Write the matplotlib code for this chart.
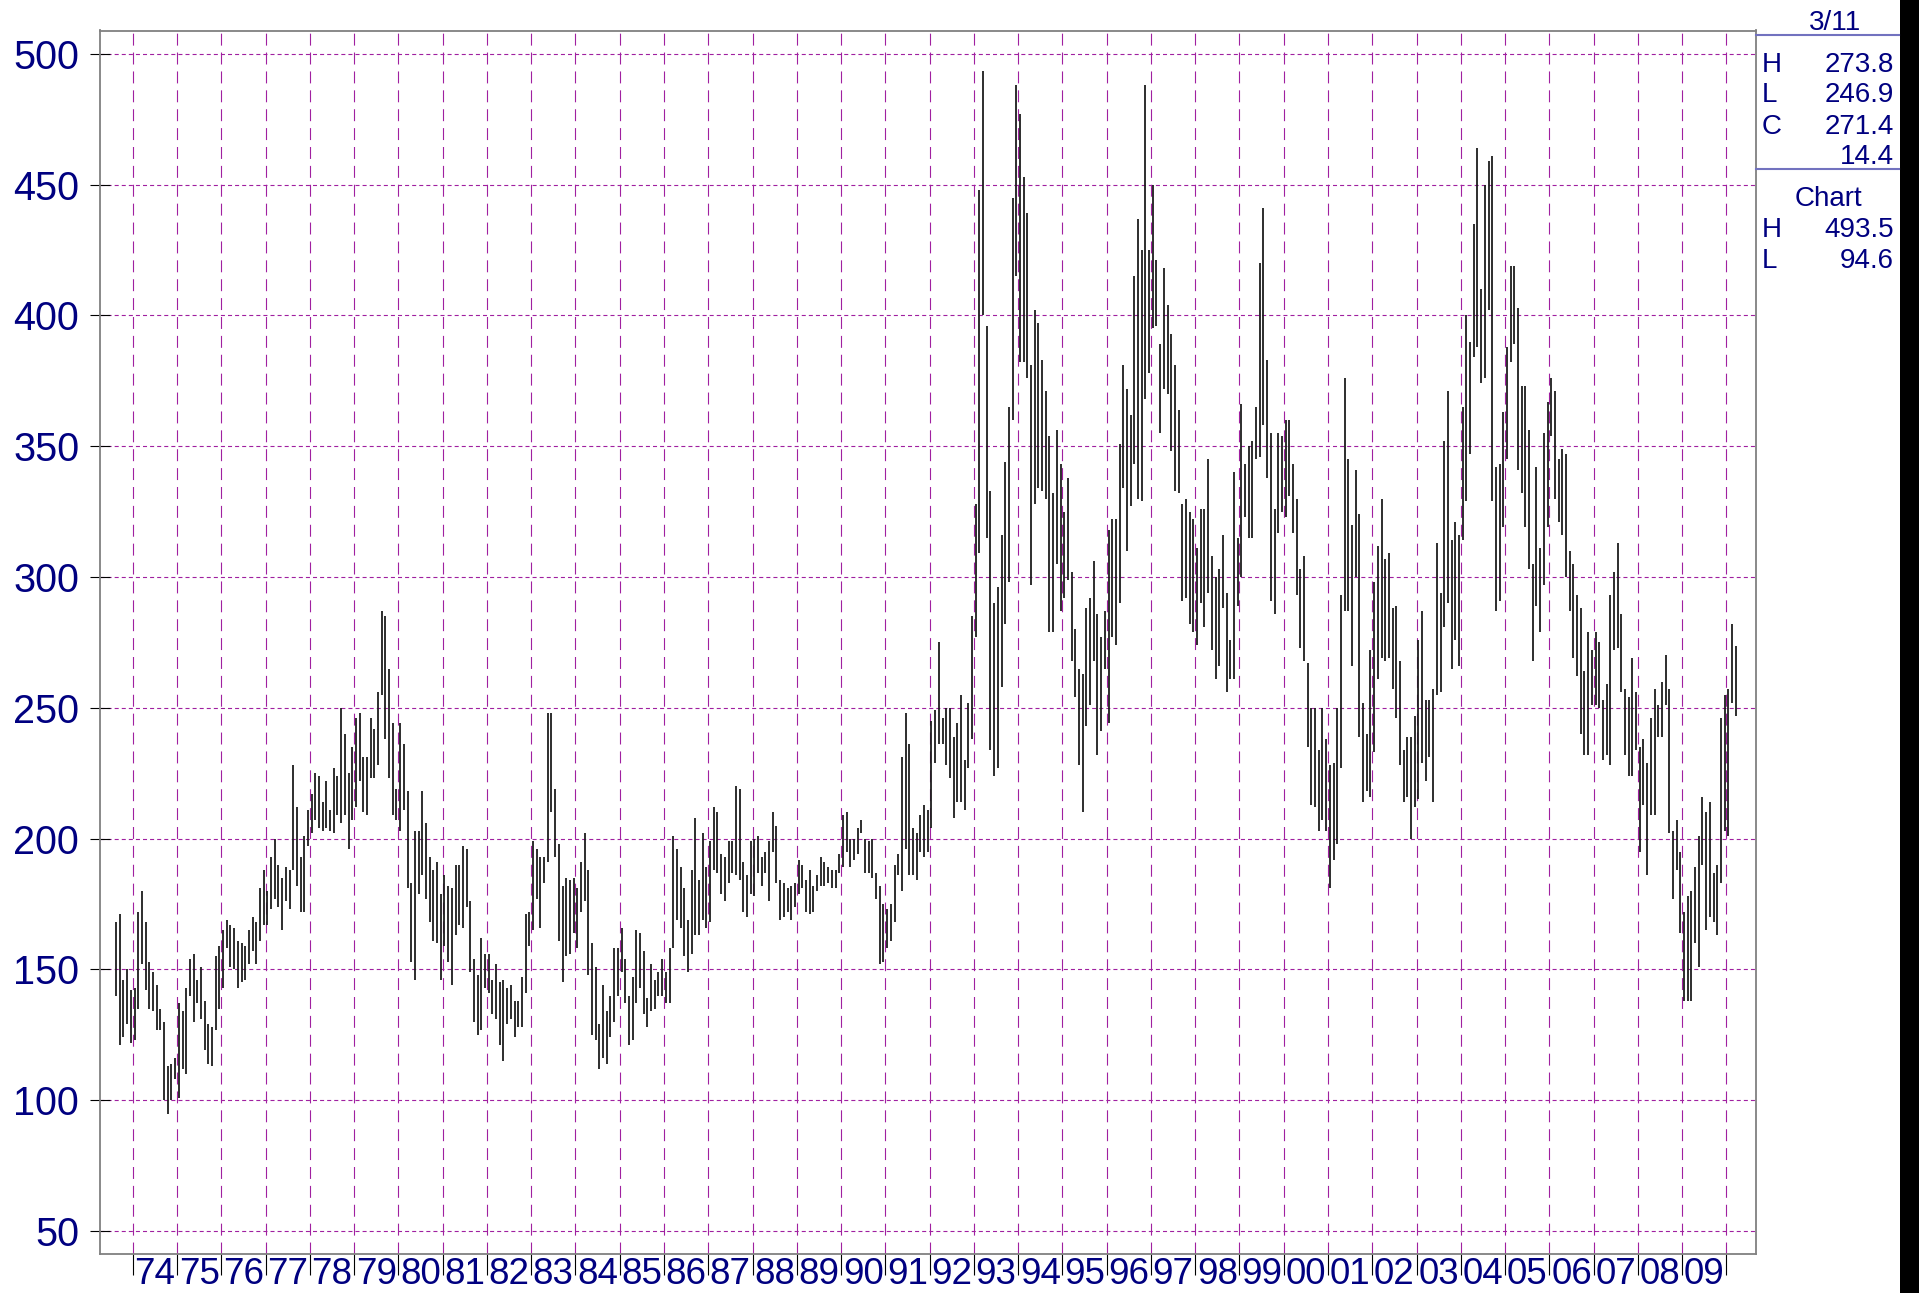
import matplotlib.pyplot as plt
from matplotlib.patches import Rectangle
import numpy as np

plt.rcParams['font.family'] = ['Liberation Sans', 'DejaVu Sans']
plt.rcParams['lines.scale_dashes'] = False

# ------------------------------------------------------------------
# data: monthly high / low bars, first bar = Aug 1973
# ------------------------------------------------------------------
start_year = 1973.625

highs = [
    168, 171, 146, 150, 142, 143, 172, 180, 168, 153, 149, 144, 135, 130, 113, 114, 116, 137, 134, 143,
    154, 156, 146, 151, 138, 129, 128, 155, 159, 165, 169, 167, 166, 161, 160, 159, 165, 170, 168, 181,
    188, 180, 193, 200, 190, 185, 189, 188, 228, 212, 193, 201, 211, 217, 225, 224, 214, 222, 211, 227,
    224, 250, 240, 225, 235, 246, 248, 231, 231, 246, 242, 256, 287, 285, 265, 244, 219, 244, 236, 218,
    183, 203, 203, 218, 206, 193, 188, 191, 179, 186, 182, 181, 190, 190, 197, 196, 176, 154, 148, 162,
    156, 156, 146, 152, 145, 146, 143, 144, 138, 138, 147, 171, 172, 199, 196, 193, 193, 248, 248, 219,
    198, 182, 185, 184, 185, 181, 191, 202, 188, 160, 151, 129, 144, 134, 140, 158, 158, 166, 154, 140,
    147, 165, 164, 157, 139, 152, 146, 149, 154, 149, 158, 201, 196, 189, 181, 169, 188, 208, 184, 202,
    189, 199, 212, 210, 194, 193, 199, 199, 220, 219, 191, 186, 199, 200, 201, 193, 195, 199, 210, 205,
    184, 183, 181, 182, 183, 192, 190, 184, 188, 182, 186, 193, 191, 189, 188, 188, 194, 209, 210, 200,
    200, 204, 207, 200, 199, 200, 187, 182, 175, 173, 175, 190, 194, 231, 248, 236, 204, 202, 209, 213,
    211, 245, 249, 275, 246, 250, 250, 239, 244, 255, 230, 252, 285, 328, 448, 493.5, 396, 333, 290, 296,
    316, 344, 365, 445, 488, 477, 453, 439, 381, 402, 397, 383, 371, 354, 332, 356, 343, 325, 338, 302,
    280, 265, 263, 288, 292, 306, 286, 277, 287, 318, 322, 322, 351, 381, 372, 362, 415, 437, 425, 488,
    425, 450, 421, 389, 418, 404, 393, 381, 364, 328, 330, 325, 322, 311, 326, 326, 345, 308, 300, 303,
    316, 294, 276, 340, 315, 366, 343, 350, 352, 365, 420, 441, 383, 355, 326, 355, 354, 360, 360, 343,
    330, 303, 308, 267, 250, 250, 234, 250, 238, 228, 229, 250, 293, 376, 345, 320, 341, 324, 252, 240,
    272, 298, 312, 330, 307, 309, 288, 289, 268, 234, 239, 239, 247, 276, 287, 253, 253, 257, 313, 294,
    352, 371, 314, 321, 316, 365, 400, 390, 435, 464, 410, 450, 459, 461, 342, 343, 363, 388, 419, 419,
    403, 373, 373, 356, 305, 342, 311, 355, 367, 376, 371, 345, 349, 347, 310, 305, 293, 288, 264, 279,
    272, 279, 275, 253, 259, 293, 302, 313, 286, 257, 254, 269, 256, 235, 238, 229, 246, 257, 251, 260,
    270, 257, 203, 207, 195, 172, 178, 180, 189, 201, 216, 210, 214, 187, 190, 246, 255, 257, 282, 273.8,
]

lows = [
    140, 121, 124, 129, 122, 123, 135, 152, 142, 135, 134, 127, 127, 100, 94.6, 100, 108, 101, 112, 110,
    140, 130, 137, 131, 119, 114, 113, 127, 135, 143, 158, 151, 150, 143, 145, 146, 152, 157, 152, 161,
    167, 167, 173, 177, 174, 165, 176, 173, 188, 182, 172, 172, 197, 202, 207, 204, 203, 204, 203, 202,
    209, 206, 209, 196, 207, 212, 222, 210, 209, 223, 223, 228, 255, 238, 223, 209, 207, 203, 211, 181,
    153, 146, 179, 186, 177, 168, 161, 160, 146, 159, 153, 144, 163, 167, 166, 174, 149, 130, 125, 127,
    143, 141, 133, 131, 121, 115, 129, 131, 124, 128, 128, 141, 159, 165, 177, 166, 183, 191, 210, 193,
    161, 145, 155, 156, 164, 158, 172, 176, 148, 125, 123, 112, 116, 114, 124, 130, 140, 149, 137, 121,
    123, 137, 143, 133, 128, 134, 135, 140, 140, 137, 137, 158, 169, 166, 155, 149, 156, 163, 163, 169,
    166, 168, 188, 187, 179, 176, 183, 187, 186, 184, 172, 170, 179, 178, 187, 182, 187, 176, 195, 183,
    169, 170, 172, 169, 174, 179, 181, 172, 171, 172, 180, 182, 182, 183, 181, 181, 187, 189, 195, 189,
    192, 194, 202, 187, 187, 185, 177, 152, 153, 158, 161, 168, 186, 180, 196, 186, 186, 184, 195, 193,
    195, 204, 229, 236, 236, 228, 223, 208, 214, 214, 211, 227, 238, 277, 309, 400, 315, 234, 224, 227,
    258, 282, 298, 360, 415, 382, 382, 376, 297, 328, 334, 333, 330, 279, 279, 305, 287, 292, 299, 268,
    254, 228, 210, 243, 251, 268, 232, 241, 265, 244, 277, 274, 290, 334, 310, 327, 343, 330, 329, 368,
    378, 395, 396, 355, 372, 370, 348, 333, 332, 291, 292, 282, 279, 274, 290, 281, 294, 272, 261, 266,
    288, 256, 261, 261, 289, 300, 323, 315, 315, 345, 346, 358, 338, 291, 286, 317, 325, 323, 331, 317,
    293, 273, 268, 235, 213, 212, 203, 207, 203, 181, 192, 198, 227, 287, 287, 266, 300, 239, 214, 218,
    216, 233, 261, 269, 268, 269, 257, 246, 228, 214, 216, 200, 212, 215, 229, 222, 231, 214, 255, 256,
    281, 290, 265, 276, 266, 314, 329, 347, 384, 388, 374, 376, 402, 329, 287, 291, 319, 345, 382, 389,
    341, 332, 319, 303, 268, 289, 279, 297, 319, 354, 330, 321, 316, 300, 287, 269, 262, 240, 232, 232,
    251, 251, 250, 230, 232, 228, 272, 273, 256, 232, 224, 224, 234, 195, 213, 186, 209, 209, 239, 239,
    251, 202, 177, 188, 164, 138, 138, 138, 160, 151, 190, 165, 170, 168, 163, 183, 203, 201, 252, 246.9,
]

year_lines = list(range(1974, 2011))
year_labels = [f"{y % 100:02d}" for y in range(1974, 2010)]
y_ticks = [50, 100, 150, 200, 250, 300, 350, 400, 450, 500]

last_date = "3/11"
last_keys = ["H", "L", "C", ""]
last_vals = ["273.8", "246.9", "271.4", "14.4"]
chart_keys = ["H", "L"]
chart_vals = ["493.5", "94.6"]

# ------------------------------------------------------------------
# figure
# ------------------------------------------------------------------
W, H = 1919, 1293
MAG = "#a020a0"
NAVY = "#000080"

fig = plt.figure(figsize=(W / 100, H / 100), dpi=100)
ax = fig.add_axes([100 / W, 1 - 1254 / H, 1656 / W, 1223.5 / H])

x = start_year + np.arange(len(highs)) / 12.0

for yv in y_ticks:
    ax.axhline(yv, color=MAG, lw=0.8, ls=(0, (2.9, 2.2)), zorder=0)
for yr in year_lines:
    ax.axvline(yr, color=MAG, lw=0.8, ls=(0, (8.6, 5.0)), zorder=0)

ax.vlines(x, lows, highs, colors="#1c1c1c", lw=1.3, zorder=2)

ax.set_xlim(1973.261, 2010.667)
ax.set_ylim(41.2, 508.9)

ax.set_yticks(y_ticks)
ax.tick_params(axis="y", direction="inout", length=14, width=0.8, color="black",
               labelsize=28.5, labelcolor=NAVY, pad=8)

ax.set_xticks(year_lines)
ax.set_xticklabels([])
ax.set_xticks([y + 0.5 for y in range(1974, 2010)], minor=True)
ax.set_xticklabels(year_labels, minor=True)
ax.tick_params(axis="x", which="major", direction="out", length=15, width=0.8, color="black")
ax.tick_params(axis="x", which="minor", length=0, labelsize=26.5, labelcolor=NAVY, pad=2.5)

for s in ax.spines.values():
    s.set_color("#808080")
    s.set_linewidth(1.3)

# ------------------------------------------------------------------
# right-hand info panel
# ------------------------------------------------------------------
def fx(px):
    return px / W

def fy(py):
    return 1 - py / H

fs = 20
fig.text(fx(1835), fy(23), last_date, fontsize=fs, color=NAVY, ha="center", va="center")
fig.add_artist(plt.Line2D([fx(1756), fx(1899)], [fy(35), fy(35)], color="#7272bf", lw=1.5))
for i, (k, v) in enumerate(zip(last_keys, last_vals)):
    yy = 64.5 + i * 31
    fig.text(fx(1762), fy(yy), k, fontsize=fs, color=NAVY, ha="left", va="center")
    fig.text(fx(1894), fy(yy), v, fontsize=fs, color=NAVY, ha="right", va="center")
fig.add_artist(plt.Line2D([fx(1756), fx(1899)], [fy(169), fy(169)], color="#7272bf", lw=1.5))
fig.text(fx(1828), fy(199), "Chart", fontsize=fs, color=NAVY, ha="center", va="center")
for i, (k, v) in enumerate(zip(chart_keys, chart_vals)):
    yy = 230 + i * 31
    fig.text(fx(1762), fy(yy), k, fontsize=fs, color=NAVY, ha="left", va="center")
    fig.text(fx(1894), fy(yy), v, fontsize=fs, color=NAVY, ha="right", va="center")

fig.add_artist(Rectangle((fx(1900), 0), 1 - fx(1900), 1, transform=fig.transFigure,
                         facecolor="black", edgecolor="none"))

fig.savefig("out.png", dpi=100)
